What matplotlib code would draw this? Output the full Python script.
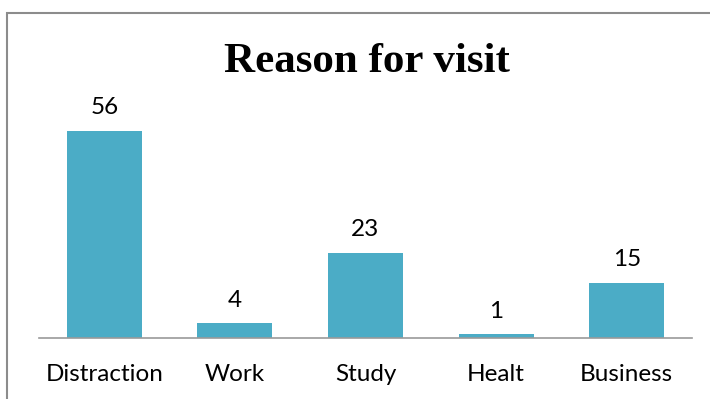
import matplotlib
matplotlib.use("Agg")
import matplotlib.pyplot as plt
from matplotlib.patches import Rectangle

categories = ["Distraction", "Work", "Study", "Healt", "Business"]
values = [56, 4, 23, 1, 15]

W, H = 710, 399
fig = plt.figure(figsize=(W / 100, H / 100), dpi=100)
fig.patch.set_facecolor("white")

# outer chart frame (runs past the right and bottom edges)
fig.add_artist(Rectangle((7 / W, -0.1), 1.2, (H - 13) / H + 0.1,
                         transform=fig.transFigure, fill=False,
                         edgecolor="#8c8c8c", linewidth=1.5))

ax = fig.add_axes([39 / W, 61 / H, (692 - 39) / W, 222 / H])
x = range(len(categories))
bars = ax.bar(x, values, width=0.575, color="#4BACC6")
ax.set_xlim(-0.5, len(categories) - 0.5)
ax.set_ylim(0, 60)

for s in ["top", "right", "left"]:
    ax.spines[s].set_visible(False)
ax.spines["bottom"].set_color("#9a9a9a")
ax.spines["bottom"].set_linewidth(1.2)
ax.set_yticks([])
ax.set_xticks(list(x))
ax.set_xticklabels(categories, fontsize=17.5, family="Lato")
ax.tick_params(axis="x", length=0, pad=19)

for b, v in zip(bars, values):
    ax.annotate(str(v), (b.get_x() + b.get_width() / 2, v),
                xytext=(0, 9), textcoords="offset points",
                ha="center", va="bottom", fontsize=17.5, family="Lato")

fig.text(366.5 / W, (H - 72) / H, "Reason for visit", ha="center",
         va="baseline", fontsize=31, fontweight="bold",
         family="Liberation Serif")

fig.savefig("out.png", dpi=100)
